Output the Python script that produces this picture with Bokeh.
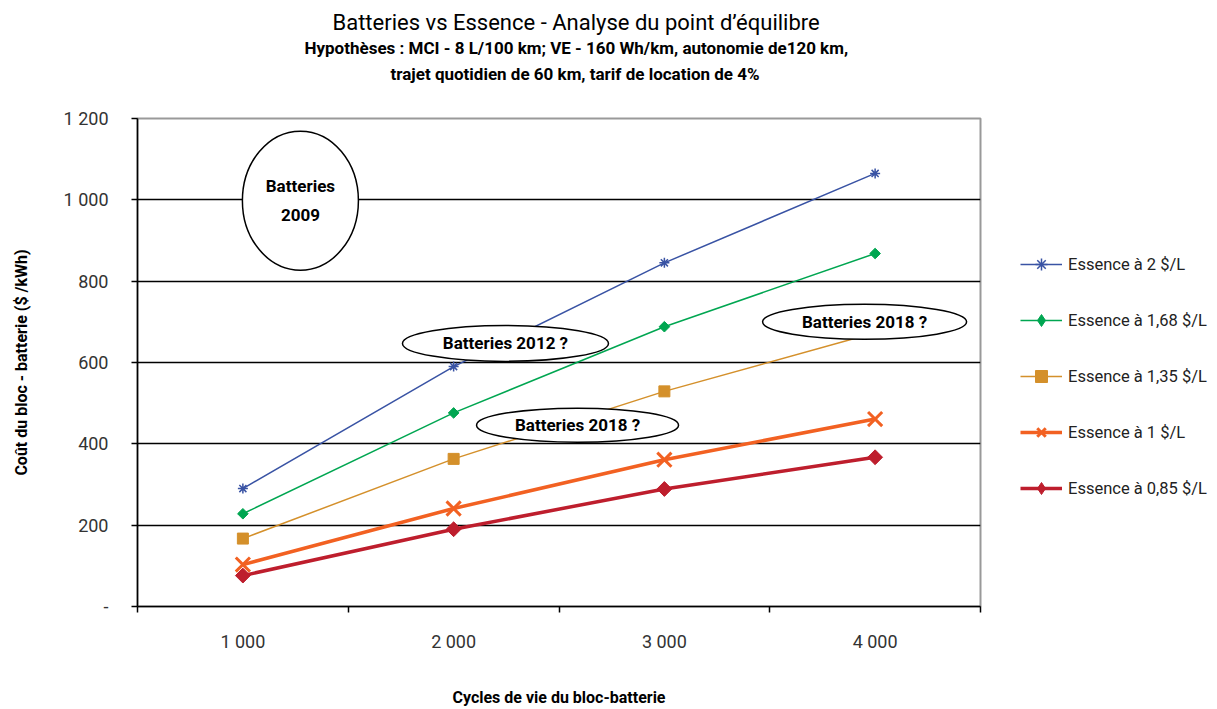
import numpy as np
from bokeh.plotting import figure
from bokeh.models import Range1d, FixedTicker, Legend, LegendItem, Title
from bokeh.embed import file_html
from bokeh.resources import INLINE
from bokeh.core.properties import value

# ---------------- data ----------------
cycles = ["1 000", "2 000", "3 000", "4 000"]
series_names = ["Essence à 2 $/L", "Essence à 1,68 $/L", "Essence à 1,35 $/L",
                "Essence à 1 $/L", "Essence à 0,85 $/L"]
essence_2_00 = [290, 590, 845, 1065]
essence_1_68 = [228, 476, 688, 868]
essence_1_35 = [167, 363, 529, 673]
essence_1_00 = [103, 241, 361, 461]
essence_0_85 = [76, 190, 289, 367]
y_ticks = [0, 200, 400, 600, 800, 1000, 1200]
y_tick_labels = ["-", "200", "400", "600", "800", "1 000", "1 200"]

title_lines = ["Batteries vs Essence - Analyse du point d\u2019équilibre",
               "Hypothèses : MCI - 8 L/100 km; VE - 160 Wh/km, autonomie de120 km,",
               "trajet quotidien de 60 km,  tarif de location de 4%"]
x_title = "Cycles de vie du bloc-batterie"
y_title = "Coût du bloc - batterie ($ /kWh)"

# callout notes (text, position in data units, ellipse size in px)
note_text = ["Batteries\n2009", "Batteries 2012 ?", "Batteries 2018 ?", "Batteries 2018 ?"]
note_x = [1.273, 2.246, 2.588, 3.95]
note_y = [998, 647, 446, 700]
note_w = [116, 206, 202, 204]
note_h = [139, 36, 34, 35]

# ---------------- style ----------------
FONT = "Roboto"
colors = ["#3953a4", "#00a651", "#d4902b", "#f26122", "#be1e2d"]
line_widths = [1.5, 1.5, 1.5, 3.5, 3.5]
markers = ["asterisk", "square", "square", "x", "square"]
legend_markers = ["asterisk", "diamond", "square", "x", "diamond"]
marker_sizes = [10, 7.5, 11, 20, 10.5]
marker_angles = [0, np.pi / 4, 0, 0, np.pi / 4]
marker_lw = [1.5, 1, 1, 3, 1]

x_pos = list(range(1, len(cycles) + 1))

W, H = 1217, 709
FL, FR, FT, FB = 137, 980, 118, 606   # frame edges in px

p = figure(width=W, height=H, frame_width=FR - FL, frame_height=FB - FT, title=None,
           x_range=Range1d(0.5, len(cycles) + 0.5), y_range=Range1d(0, 1200),
           output_backend="svg", toolbar_location=None,
           min_border_left=FL, min_border_right=W - FR,
           min_border_top=FT, min_border_bottom=H - FB)

p.outline_line_color = "#999999"
p.outline_line_width = 2
p.background_fill_color = "white"
p.border_fill_color = "white"

# titles (first added = closest to the plot); left-aligned with offsets so the
# block is centred where the original centres it
spacer = Title(text=" ", text_font=FONT, text_font_size="16px", standoff=11)
p.add_layout(spacer, "above")
title_specs = [(title_lines[2], "17px", "bold", 2, "top", 390 - FL),
               (title_lines[1], "17px", "bold", 6, "top", 304 - FL),
               (title_lines[0], "22px", "normal", 0, "bottom", 332 - FL)]
for txt, fs, st, so, va, off in title_specs:
    p.add_layout(Title(text=txt, align="left", vertical_align=va, offset=off,
                       text_font=FONT, text_font_size=fs, text_font_style=st,
                       text_color="black", standoff=so), "above")

# axes
xa = p.xaxis[0]
xa.ticker = FixedTicker(ticks=x_pos, minor_ticks=[x - 0.5 for x in x_pos] + [x_pos[-1] + 0.5])
xa.major_label_overrides = {x: c for x, c in zip(x_pos, cycles)}
xa.major_tick_out = 0
xa.major_tick_in = 0
xa.minor_tick_out = 6
xa.minor_tick_in = 0
xa.minor_tick_line_color = "black"
xa.minor_tick_line_width = 1.5
xa.major_label_standoff = 18
xa.axis_label = x_title
xa.axis_label_standoff = 33

ya = p.yaxis[0]
ya.ticker = FixedTicker(ticks=y_ticks, minor_ticks=[])
ya.major_label_overrides = {t: l for t, l in zip(y_ticks, y_tick_labels)}
ya.major_tick_out = 6
ya.major_tick_in = 0
ya.major_label_standoff = 23
ya.axis_label = y_title
ya.axis_label_standoff = 30

for ax in (xa, ya):
    ax.axis_line_color = "black"
    ax.axis_line_width = 1.5
    ax.major_tick_line_color = "black"
    ax.major_tick_line_width = 1.5
    ax.major_label_text_font = FONT
    ax.major_label_text_font_size = "18px"
    ax.major_label_text_color = "#333333"
    ax.axis_label_text_font = FONT
    ax.axis_label_text_font_size = "16px"
    ax.axis_label_text_font_style = "bold"
    ax.axis_label_text_color = "black"

p.xgrid.visible = False
p.ygrid.ticker = FixedTicker(ticks=y_ticks[1:-1], minor_ticks=[])
p.ygrid.grid_line_color = "black"
p.ygrid.grid_line_width = 1.3

# series
all_series = [essence_2_00, essence_1_68, essence_1_35, essence_1_00, essence_0_85]
items = []
for i, vals in enumerate(all_series):
    lr = p.line(x_pos, vals, line_color=colors[i], line_width=line_widths[i])
    sr = p.scatter(x_pos, vals, marker=markers[i], size=marker_sizes[i], angle=marker_angles[i],
                   fill_color=colors[i], line_color=colors[i], line_width=marker_lw[i])
    if legend_markers[i] != markers[i]:
        # legend-only glyph (a single NaN point, never drawn in the plot):
        # the legend does not rotate markers, so show a diamond there
        lg = p.scatter([np.nan], [np.nan], marker=legend_markers[i], size=marker_sizes[i],
                       fill_color=colors[i], line_color=colors[i], line_width=marker_lw[i])
        items.append(LegendItem(label=series_names[i], renderers=[lr, lg]))
    else:
        items.append(LegendItem(label=series_names[i], renderers=[lr, sr]))

# callouts
p.ellipse(x=note_x, y=note_y, width=note_w, height=note_h,
          width_units="screen", height_units="screen",
          fill_color="white", line_color="black", line_width=1.5)
p.text(x=note_x, y=note_y, text=note_text, text_align="center", text_baseline="middle",
       text_font=value(FONT), text_font_size="17px", text_font_style="bold",
       text_color="black", text_line_height=1.45)

legend = Legend(items=items, location=(1020 - FR, 103), orientation="vertical",
                glyph_width=42, glyph_height=30, label_height=30, spacing=26,
                padding=0, margin=0, border_line_color=None, background_fill_alpha=0,
                label_text_font=FONT, label_text_font_size="16.5px",
                label_text_color="#222222", label_standoff=6)
p.add_layout(legend, "right")

open("out.html", "w").write(file_html(p, INLINE))
